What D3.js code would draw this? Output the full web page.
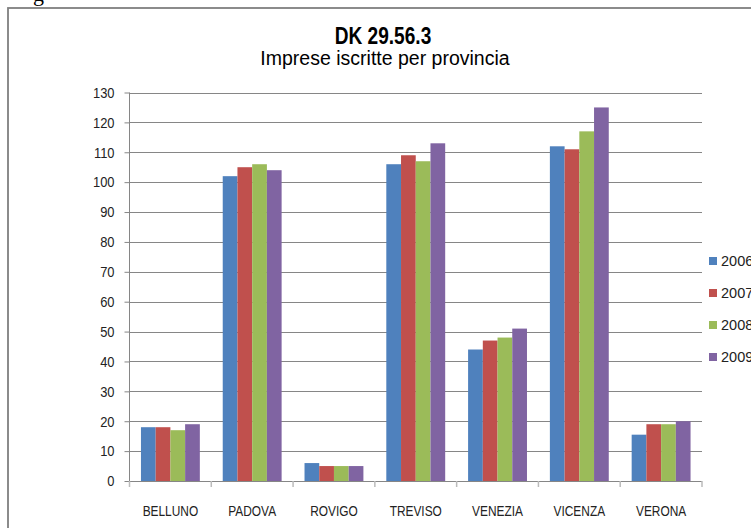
<!DOCTYPE html>
<html>
<head>
<meta charset="utf-8">
<script src="https://cdn.jsdelivr.net/npm/d3@7"></script>
<style>
  html, body { margin: 0; padding: 0; background: #fff; overflow: hidden; }
  svg { display: block; }
</style>
</head>
<body>
<svg id="chart" width="751" height="528"></svg>
<script>
const categories = ["BELLUNO", "PADOVA", "ROVIGO", "TREVISO", "VENEZIA", "VICENZA", "VERONA"];
const years = ["2006", "2007", "2008", "2009"];
const values2006 = [18, 102, 6, 106, 44, 112, 15.5];
const values2007 = [18, 105, 5, 109, 47, 111, 19];
const values2008 = [17, 106, 5, 107, 48, 117, 19];
const values2009 = [19, 104, 5, 113, 51, 125, 20];
const yTicks = [0, 10, 20, 30, 40, 50, 60, 70, 80, 90, 100, 110, 120, 130];
const colors = ["#4F81BD", "#C0504D", "#9BBB59", "#8064A2"];
const title = "DK 29.56.3";
const subtitle = "Imprese iscritte per provincia";

const series = [values2006, values2007, values2008, values2009];
const table = categories.map((c, i) => ({ cat: c, vals: years.map((y, j) => ({ year: y, v: series[j][i], k: j })) }));

const svg = d3.select("#chart");
const plot = { left: 129.5, right: 702, top: 92.5, bottom: 481 };
const gridColor = "#868686";
const FONT = "Liberation Sans, Arial, sans-serif";

// condense text horizontally (the original uses a narrow font)
function condense(sel, f) {
  sel.each(function () {
    const w = this.getComputedTextLength();
    if (w > 0) {
      this.setAttribute("textLength", w * f);
      this.setAttribute("lengthAdjust", "spacingAndGlyphs");
    }
  });
}

// fragment of text above the frame
svg.append("text").attr("x", 33).attr("y", 0.5)
  .attr("font-family", "Liberation Serif").attr("font-size", 22).attr("fill", "#000").text("g");

// chart frame
svg.append("rect").attr("x", 8).attr("y", 8).attr("width", 800).attr("height", 600)
  .attr("fill", "#fff").attr("stroke", "#7f7f7f").attr("stroke-width", 1.8);

const x0 = d3.scaleBand().domain(categories).range([plot.left, plot.right]).padding(0);
const x1 = d3.scaleBand().domain(years).range([x0.bandwidth() * 0.14, x0.bandwidth() * 0.86]).padding(0);
const y = d3.scaleLinear().domain([0, 130]).range([plot.bottom, plot.top]);

// gridlines
svg.append("g").selectAll("line").data(yTicks.filter(t => t > 0)).join("line")
  .attr("x1", plot.left).attr("x2", plot.right)
  .attr("y1", d => Math.round(y(d)) + 0.5).attr("y2", d => Math.round(y(d)) + 0.5)
  .attr("stroke", gridColor).attr("stroke-width", 1);

// y axis
const yAxis = d3.axisLeft(y).tickValues(yTicks).tickSize(5).tickPadding(10).tickFormat(d3.format("d"));
const gy = svg.append("g").attr("transform", `translate(${plot.left},0)`).call(yAxis);
gy.select(".domain").attr("stroke", gridColor).attr("d", `M0,${plot.top}V${plot.bottom}`);
gy.selectAll(".tick line").attr("stroke", gridColor);
gy.selectAll(".tick text").attr("font-family", FONT).attr("font-size", 15).attr("fill", "#222")
  .call(condense, 0.86);

// bars
const groups = svg.append("g").selectAll("g").data(table).join("g")
  .attr("transform", d => `translate(${x0(d.cat)},0)`);
groups.selectAll("rect").data(d => d.vals).join("rect")
  .attr("x", d => x1(d.year))
  .attr("width", x1.bandwidth())
  .attr("y", d => y(d.v))
  .attr("height", d => y(0) - y(d.v))
  .attr("fill", d => colors[d.k]);

// x axis
const gx = svg.append("g").attr("transform", `translate(0,${plot.bottom})`);
gx.append("line").attr("x1", plot.left).attr("x2", plot.right).attr("y1", 0.5).attr("y2", 0.5)
  .attr("stroke", gridColor);
const bounds = categories.map(c => x0(c)).concat([plot.right]);
gx.selectAll("line.tk").data(bounds).join("line").attr("class", "tk")
  .attr("x1", d => d).attr("x2", d => d).attr("y1", 0).attr("y2", 6)
  .attr("stroke", "#bbbbbb").attr("stroke-width", 1.5);
gx.selectAll("text").data(categories).join("text")
  .attr("x", d => x0(d) + x0.bandwidth() / 2).attr("y", 35)
  .attr("text-anchor", "middle")
  .attr("font-family", FONT).attr("font-size", 14.5).attr("fill", "#222")
  .text(d => d)
  .call(condense, 0.82);

// titles
svg.append("text").attr("x", 383).attr("y", 44).attr("text-anchor", "middle")
  .attr("font-family", FONT).attr("font-weight", "bold").attr("font-size", 23)
  .attr("fill", "#000").text(title).call(condense, 0.83);
svg.append("text").attr("x", 385).attr("y", 65).attr("text-anchor", "middle")
  .attr("font-family", FONT).attr("font-size", 19.5)
  .attr("fill", "#000").text(subtitle);

// legend
const legend = svg.append("g").selectAll("g").data(years).join("g")
  .attr("transform", (d, i) => `translate(709, ${261 + i * 32})`);
legend.append("rect").attr("x", 0).attr("y", -4).attr("width", 8).attr("height", 8)
  .attr("fill", (d, i) => colors[i]);
legend.append("text").attr("x", 12).attr("y", 5)
  .attr("font-family", FONT).attr("font-size", 14.5).attr("fill", "#222")
  .text(d => d);
</script>
</body>
</html>
